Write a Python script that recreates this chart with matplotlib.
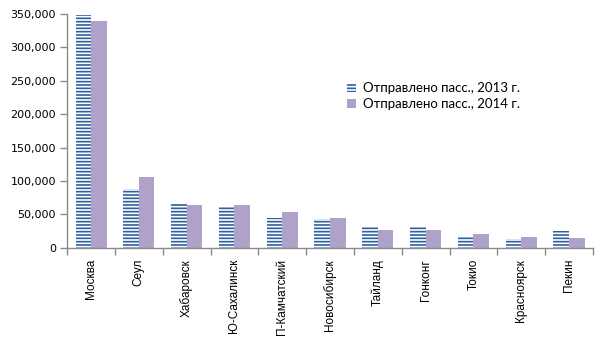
import numpy as np
import matplotlib.pyplot as plt
from matplotlib.ticker import FuncFormatter

cities = ["Москва", "Сеул", "Хабаровск", "Ю-Сахалинск", "П-Камчатский",
          "Новосибирск", "Тайланд", "Гонконг", "Токио", "Красноярск", "Пекин"]
pass_2013 = [348500, 88200, 65800, 63300, 44900, 43400, 31400, 33000, 16500, 13500, 25500]
pass_2014 = [339500, 106200, 63900, 64300, 53800, 44900, 27000, 27000, 21000, 16500, 15000]

blue = "#2e5f9e"
lilac = "#b0a1c8"
axis_grey = "#8a8a8a"

plt.rcParams["hatch.linewidth"] = 1.2
plt.rcParams["hatch.color"] = blue

fig = plt.figure(figsize=(6.05, 3.40), dpi=100)
ax = fig.add_axes([0.111, 0.271, 0.869, 0.688])

x = np.arange(len(cities))
w = 0.325
ax.bar(x - w / 2, pass_2013, width=w, facecolor="white", edgecolor=blue,
       hatch="-----", linewidth=0, label="Отправлено пасс., 2013 г.")
ax.bar(x + w / 2, pass_2014, width=w, color=lilac, linewidth=0,
       label="Отправлено пасс., 2014 г.")

ax.set_xlim(-0.5, len(cities) - 0.5)
ax.set_ylim(0, 350000)
ax.set_yticks(np.arange(0, 350001, 50000))
ax.yaxis.set_major_formatter(FuncFormatter(lambda v, p: f"{int(v):,}"))

ax.set_xticks(x)
ax.set_xticklabels(cities, rotation=90, family="Liberation Sans", fontsize=8.5)
ax.set_xticks(np.arange(-0.5, len(cities)), minor=True)
ax.tick_params(axis="x", which="major", length=0, pad=8)
ax.tick_params(axis="x", which="minor", length=5, color=axis_grey, width=1)
ax.tick_params(axis="y", length=5, color=axis_grey, width=1, labelsize=8, pad=3)

for s in ["top", "right"]:
    ax.spines[s].set_visible(False)
for s in ["left", "bottom"]:
    ax.spines[s].set_color(axis_grey)
    ax.spines[s].set_linewidth(1)

leg = ax.legend(loc="upper left", bbox_to_anchor=(0.51, 0.76), frameon=False,
                prop={"family": "Lato", "size": 9.5}, handlelength=0.7,
                handleheight=0.7, handletextpad=0.5, labelspacing=0.3)

fig.savefig("out.png", dpi=100)
